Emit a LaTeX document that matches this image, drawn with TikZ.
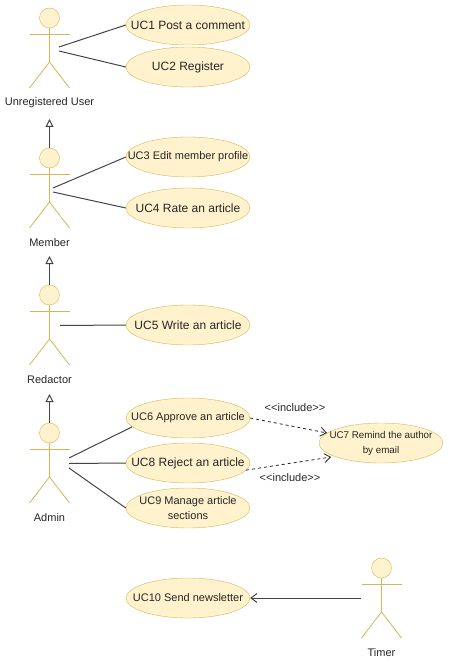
\documentclass[tikz,border=0pt]{standalone}
\usepackage{fontspec}
\setmainfont{Liberation Sans}
\usetikzlibrary{arrows.meta,shapes.geometric}
\definecolor{ucfill}{HTML}{FFF2CC}
\definecolor{ucline}{HTML}{D6B656}
\definecolor{linkcol}{HTML}{444444}
\tikzset{
  usecase/.style={draw=ucline, fill=ucfill, ellipse, inner xsep=-30pt, inner ysep=-10pt, minimum width=124pt, minimum height=40pt, align=center, font=\fontsize{12}{15}\selectfont, text=black!85},
  smallcase/.style={usecase, font=\fontsize{11}{15}\selectfont},
  head/.style={draw=ucline, fill=ucfill, circle, inner sep=0pt, minimum size=20pt},
  limb/.style={draw=ucline, line width=0.8pt},
  caption/.style={font=\fontsize{11}{13}\selectfont, text=black!85},
  link/.style={draw=linkcol, line width=1pt},
  inherit/.style={link, -{Triangle[open, length=8pt, width=8pt]}},
  incl/.style={draw=black!85, line width=0.8pt, dashed, -{Straight Barb[length=6pt, width=9pt]}},
  send/.style={link, -{Straight Barb[length=6pt, width=9pt]}},
}
\newcommand{\actorfig}[5]{% name, x, y of head, caption, caption y
  \node[head] (#1) at (#2,#3) {};
  \draw[limb] (#2,#3+10) -- (#2,#3+44);
  \draw[limb] (#2-20,#3+16.5) -- (#2+20,#3+16.5);
  \draw[limb] (#2-20,#3+70) -- (#2,#3+44) -- (#2+20,#3+70);
  \node[caption] (#1cap) at (#2,#5) {#4};
}
\begin{document}
\begin{tikzpicture}[x=1pt,y=-1pt]
\useasboundingbox (0,0) rectangle (449,666);
% actors
\actorfig{user}{49.5}{18}{Unregistered User}{103}
\actorfig{member}{49.5}{158}{Member}{243}
\actorfig{redactor}{49.5}{295}{Redactor}{380}
\actorfig{admin}{49.5}{433}{Admin}{518}
\actorfig{timer}{381.5}{568}{Timer}{653}
% use cases
\node[usecase] (uc1) at (188,25) {UC1 Post a comment};
\node[usecase] (uc2) at (188,67) {UC2 Register};
\node[smallcase] (uc3) at (188,157) {UC3 Edit member profile};
\node[usecase] (uc4) at (188,208) {UC4 Rate an article};
\node[usecase] (uc5) at (188,325) {UC5 Write an article};
\node[smallcase] (uc6) at (188,418) {UC6 Approve an article};
\node[usecase] (uc8) at (188,463) {UC8 Reject an article};
\node[smallcase] (uc9) at (188,508) {UC9 Manage article\\sections};
\node[usecase, font=\fontsize{9.8}{15}\selectfont] (uc7) at (381,443) {UC7 Remind the author\\by email};
\node[smallcase] (uc10) at (188,598) {UC10 Send newsletter};
\node[caption] (incl1) at (295,408) {<{}<include>{}>};
\node[caption] (incl2) at (290,478) {<{}<include>{}>};
% free ends
\coordinate (u1) at (59,47);
\coordinate (u2) at (59,51);
\coordinate (m1) at (53,188);
\coordinate (m2) at (53,192);
\coordinate (r1) at (60,325.5);
\coordinate (a1) at (69,458);
\coordinate (a2) at (69,463.5);
\coordinate (a3) at (69,468);
\coordinate (t1) at (361,598);
\coordinate (g1) at (49.5,119);
\coordinate (g2) at (49.5,256);
\coordinate (g3) at (49.5,394);
\coordinate (d1) at (327,433);
\coordinate (d2) at (331,457);
% links
\draw[link] (u1) -- (uc1.west);
\draw[link] (u2) -- (uc2.west);
\draw[link] (m1) -- (uc3.west);
\draw[link] (m2) -- (uc4.west);
\draw[link] (r1) -- (uc5.west);
\draw[link] (a1) -- (uc6.189);
\draw[link] (a2) -- (uc8.west);
\draw[link] (a3) -- (uc9.west);
\draw[inherit] (member) -- (g1);
\draw[inherit] (redactor) -- (g2);
\draw[inherit] (admin) -- (g3);
\draw[incl] (uc6.east) -- (d1);
\draw[incl] (uc8.-7) -- (d2);
\draw[send] (t1) -- (uc10.east);
\end{tikzpicture}
\end{document}
